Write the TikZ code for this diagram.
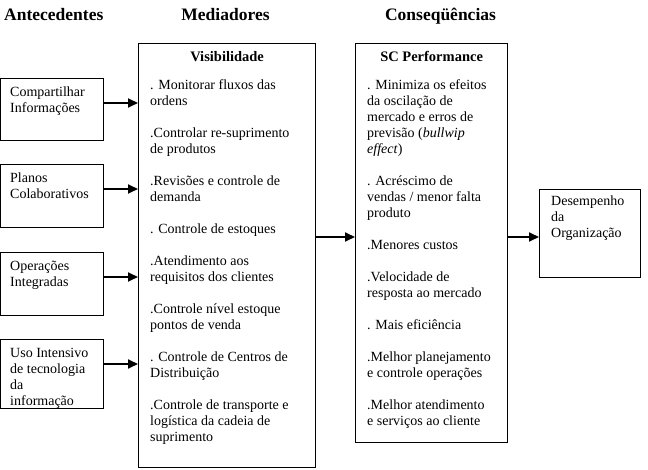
\documentclass[tikz,border=0pt]{standalone}
\usepackage{fontspec}
\setmainfont{Liberation Serif}
\usetikzlibrary{arrows.meta}

\begin{document}
\begin{tikzpicture}[x=1pt,y=-1pt]
   \tikzstyle{every node}=[font=\fontsize{14}{16}\selectfont, inner sep=0pt]
   \tikzstyle{caixa}=[draw, line width=1.2pt, anchor=north west]
   \tikzstyle{texto}=[anchor=north west, align=left, execute at begin node=\strut]
   \tikzstyle{titulo}=[font=\fontsize{17.5}{20}\selectfont\bfseries, anchor=base]
   \tikzstyle{subtitulo}=[font=\fontsize{14.5}{16}\selectfont\bfseries, anchor=base]
   \tikzstyle{seta}=[line width=1.8pt, -{Triangle[length=10pt,width=9pt]}]

\useasboundingbox (0,0) rectangle (648,470);

% colunas
\node[titulo, anchor=base west] (tant) at (4,21) {Antecedentes};
\node[titulo] (tmed) at (225.5,21) {Mediadores};
\node[titulo] (tcon) at (440.5,21) {Conseqüências};

% antecedentes
\node[caixa, minimum width=103pt, minimum height=62pt] (comp) at (0,78) {};
\node[caixa, minimum width=103pt, minimum height=63pt] (plan) at (0,164) {};
\node[caixa, minimum width=103pt, minimum height=63pt] (oper) at (0,252) {};
\node[caixa, minimum width=103pt, minimum height=69pt] (uso) at (0,339) {};
\node[texto] (tcomp) at ([shift={(10pt,-8.8pt)}]comp.north west) {Compartilhar\\Informações};
\node[texto] (tplan) at ([shift={(10pt,-8.8pt)}]plan.north west) {Planos\\Colaborativos};
\node[texto] (toper) at ([shift={(10pt,-8.8pt)}]oper.north west) {Operações\\Integradas};
\node[texto] (tuso) at ([shift={(10pt,-8.8pt)}]uso.north west) {Uso Intensivo\\de tecnologia\\da\\informação};

% mediadores
\node[caixa, minimum width=177pt, minimum height=424pt] (vis) at (138,43) {};
\node[subtitulo] (tvis) at ([yshift=-19pt]vis.north) {Visibilidade};
\node[texto] (lvis) at ([shift={(12pt,-36.8pt)}]vis.north west) {%
. Monitorar fluxos das\\ordens\\[16pt]
.Controlar re-suprimento\\de produtos\\[16pt]
.Revisões e controle de\\demanda\\[16pt]
. Controle de estoques\\[16pt]
.Atendimento aos\\requisitos dos clientes\\[16pt]
.Controle nível estoque\\pontos de venda\\[16pt]
. Controle de Centros de\\Distribuição\\[16pt]
.Controle de transporte e\\logística da cadeia de\\suprimento};

% consequencias
\node[caixa, minimum width=152pt, minimum height=399pt] (sc) at (355,43) {};
\node[subtitulo] (tsc) at ([yshift=-19pt]sc.north) {SC Performance};
\node[texto] (lsc) at ([shift={(12pt,-36.8pt)}]sc.north west) {%
. Minimiza os efeitos\\da oscilação de\\mercado e erros de\\previsão (\textit{bullwip}\\\textit{effect})\\[16pt]
. Acréscimo de\\vendas / menor falta\\produto\\[16pt]
.Menores custos\\[16pt]
.Velocidade de\\resposta ao mercado\\[16pt]
. Mais eficiência\\[16pt]
.Melhor planejamento\\e controle operações\\[16pt]
.Melhor atendimento\\e serviços ao cliente};

\node[caixa, minimum width=101pt, minimum height=88pt] (des) at (539,189) {};
\node[texto] (tdes) at ([shift={(12pt,-6.8pt)}]des.north west) {Desempenho\\da\\Organização};

% setas
\foreach \n in {comp,plan,oper,uso}
   \draw[seta] ([yshift=-25pt]\n.north east) -- ([yshift=-25pt]\n.north east -| vis.west);
\coordinate (meio) at ([yshift=-48pt]des.north west);
\draw[seta] (vis.east |- meio) -- (sc.west |- meio);
\draw[seta] (sc.east |- meio) -- (meio);

\end{tikzpicture}
\end{document}
